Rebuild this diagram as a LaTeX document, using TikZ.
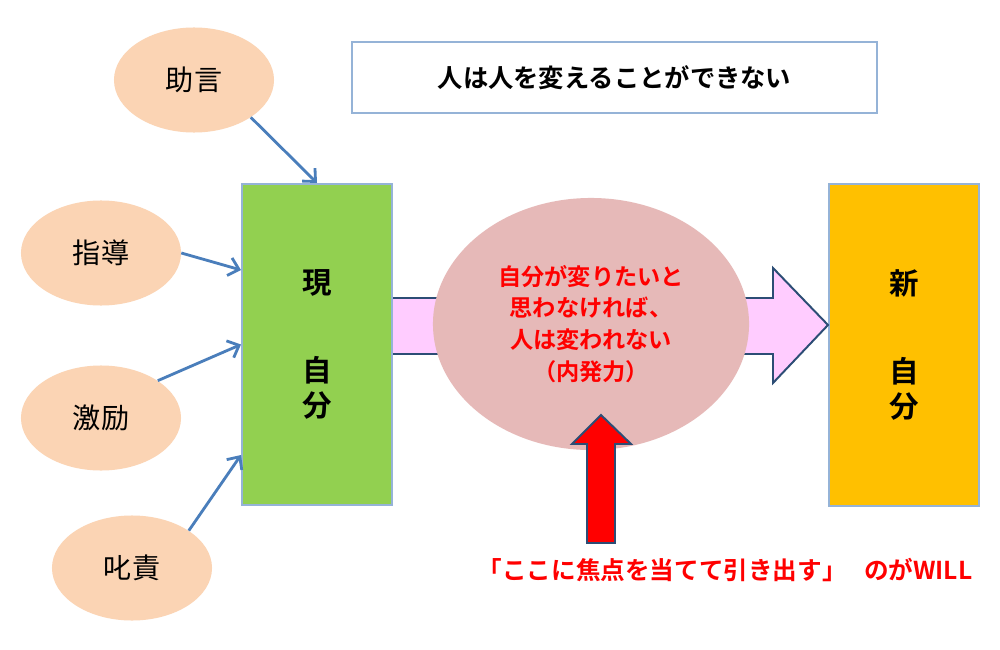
\documentclass[tikz,border=0pt]{standalone}
\usepackage{fontspec}
\setmainfont{Noto Sans CJK JP}[BoldFont={Noto Sans CJK JP Bold}]
\usepackage{xcolor}
\usetikzlibrary{arrows.meta,shapes.geometric}
\definecolor{peach}{HTML}{FBD4B4}
\definecolor{rose}{HTML}{E6B9B8}
\definecolor{nowgreen}{HTML}{92D050}
\definecolor{neworange}{HTML}{FFC000}
\definecolor{boxline}{HTML}{95B3D7}
\definecolor{linkblue}{HTML}{4A7EBB}
\definecolor{blockline}{HTML}{2C4D75}
\definecolor{flowpink}{HTML}{FFCCFF}
\definecolor{willred}{HTML}{FF0000}

\begin{document}
\begin{tikzpicture}[x=0.025cm,y=-0.025cm,
  src/.style={ellipse,fill=peach,minimum width=4cm,minimum height=2.625cm,
              font=\fontsize{20}{24}\selectfont},
  self/.style={draw=boxline,line width=1.4pt,minimum width=3.75cm,
               minimum height=8.025cm,align=center,
               font=\fontsize{21}{25}\selectfont\bfseries},
  push/.style={draw=linkblue,line width=2pt,
               -{Straight Barb[length=7pt,width=13pt]}},
  block/.style={draw=blockline,line width=1.4pt,line join=miter}
]
\useasboundingbox[fill=white] (0,0) rectangle (1000,650);

% title
\node[draw=boxline,line width=1.4pt,minimum width=13.125cm,minimum height=1.775cm,
      font=\fontsize{18}{22}\selectfont\bfseries] (title) at (614.5,77.5)
      {人は人を変えることができない};

% outside pressure
\node[src] (advice) at (194,80)  {助言};
\node[src] (guide)  at (101,253) {指導};
\node[src] (cheer)  at (101,418) {激励};
\node[src] (scold)  at (132,568) {叱責};

% before / after
\node[self,fill=nowgreen]  (cur) at (317,344.5) {現\\[37pt]自\\分};
\node[self,fill=neworange] (new) at (904,345)   {新\\[37pt]自\\分};

\draw[push] (advice.south east) -- (cur.north);
\draw[push] (guide.east) -- (cur.west |- 0,270);
\draw[push] (cheer.north east) -- (cur.west);
\draw[push] (scold.north east) -- (cur.west |- 0,455);

% flow arrow behind the ellipse
\draw[block,fill=flowpink] (cur.east |- 0,298) -- (773,298) -- (773,268)
  -- (new.west |- 0,325) -- (773,383) -- (773,354) -- (cur.east |- 0,354);

\node[ellipse,fill=rose,minimum width=7.9cm,minimum height=6.3cm,text=willred,
      align=center,font=\fontsize{16.5}{22.7}\selectfont\bfseries] (will) at (591,324)
      {自分が変りたいと\\思わなければ、\\人は変われない\\（内発力）};

% focus arrow
\draw[block,fill=willred] (601,415) -- (631,444) -- (615,444) -- (615,543)
  -- (587,543) -- (587,444) -- (572,444) -- cycle;

\node[text=willred,font=\fontsize{17.5}{21}\selectfont\bfseries] (note) at (725,570)
      {「ここに焦点を当てて引き出す」\hspace{0.7em}のがWILL};
\end{tikzpicture}
\end{document}
